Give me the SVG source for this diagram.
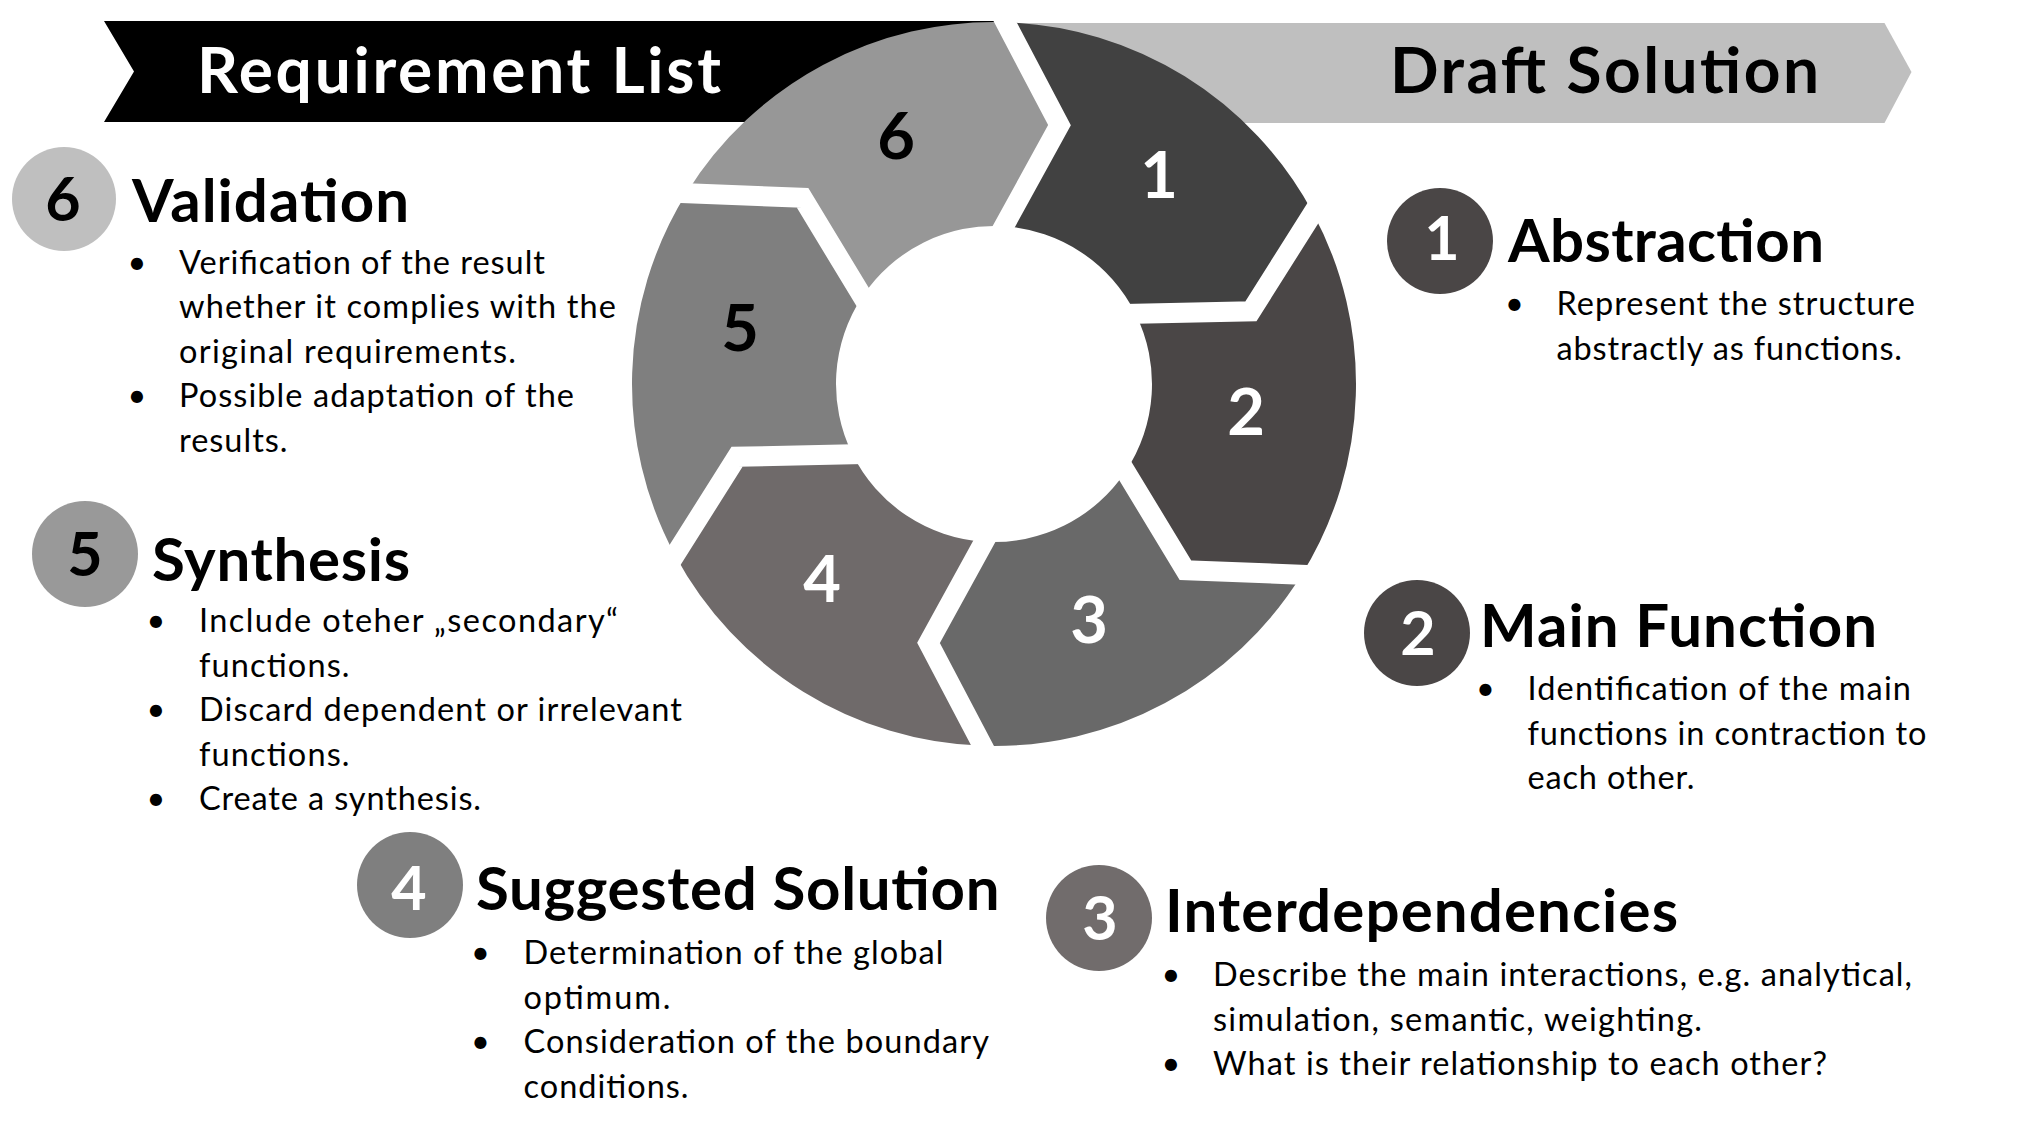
<svg xmlns="http://www.w3.org/2000/svg" width="2023" height="1133" viewBox="0 0 2023 1133">
<style>
.ban{font-family:Lato,"Liberation Sans",sans-serif;font-weight:bold;font-size:64px;}
.hd{font-family:Lato,"Liberation Sans",sans-serif;font-weight:bold;font-size:60px;fill:#000;}
.bd{font-family:Lato,"Liberation Sans",sans-serif;font-size:32.5px;fill:#000;}
.bl{font-family:Lato,"Liberation Sans",sans-serif;font-size:32.5px;fill:#000;text-anchor:middle;}
.wn{font-family:Lato,"Liberation Sans",sans-serif;font-weight:bold;font-size:65px;text-anchor:middle;}
.cn{font-family:Lato,"Liberation Sans",sans-serif;font-weight:bold;font-size:61px;text-anchor:middle;}
.gap{fill:none;stroke:#fff;stroke-width:20;stroke-linejoin:miter;}
</style>
<rect width="2023" height="1133" fill="#fff"/>
<g id="banner-requirement">
<polygon points="104,21 1000,21 1000,122 104,122 134,71.5" fill="#000"/>
<text class="ban" x="197" y="93" fill="#fff" textLength="524">Requirement List</text>
</g>
<g id="banner-draft">
<polygon points="1000,23 1884.5,23 1911.5,72 1884.5,123 1000,123" fill="#bfbfbf"/>
<text class="ban" x="1390" y="93" fill="#000" textLength="429">Draft Solution</text>
</g>
<g id="wheel">
<g id="seg1"><path d="M1005.37,22.18 A362,362 0 0 1 1313.03,212.94 L1250.91,311.30 L1135.52,313.75 A158,158 0 0 0 1003.92,226.31 L1059.50,125.16 Z" fill="#414141"/><text class="wn" x="1159" y="198" fill="#fff">1</text></g>
<g id="seg2"><path d="M1313.03,212.94 A362,362 0 0 1 1301.66,574.76 L1185.42,570.14 L1125.60,471.44 A158,158 0 0 0 1135.52,313.75 L1250.91,311.30 Z" fill="#4a4646"/><text class="wn" x="1246" y="435" fill="#fff">2</text></g>
<g id="seg3"><path d="M1301.66,574.76 A362,362 0 0 1 982.63,745.82 L928.50,642.84 L984.08,541.69 A158,158 0 0 0 1125.60,471.44 L1185.42,570.14 Z" fill="#696969"/><text class="wn" x="1089" y="643" fill="#fff">3</text></g>
<g id="seg4"><path d="M982.63,745.82 A362,362 0 0 1 674.97,555.06 L737.09,456.70 L852.48,454.25 A158,158 0 0 0 984.08,541.69 L928.50,642.84 Z" fill="#6f6a6a"/><text class="wn" x="822" y="602" fill="#fff">4</text></g>
<g id="seg5"><path d="M674.97,555.06 A362,362 0 0 1 686.34,193.24 L802.58,197.86 L862.40,296.56 A158,158 0 0 0 852.48,454.25 L737.09,456.70 Z" fill="#7f7f7f"/><text class="wn" x="740" y="351" fill="#000">5</text></g>
<g id="seg6"><path d="M686.34,193.24 A362,362 0 0 1 1005.37,22.18 L1059.50,125.16 L1003.92,226.31 A158,158 0 0 0 862.40,296.56 L802.58,197.86 Z" fill="#979797"/><text class="wn" x="896" y="159" fill="#000">6</text></g>
</g>
<g id="connectors">
<polyline class="gap" points="999.96,11.88 1059.50,125.16 998.36,236.43"/>
<polyline class="gap" points="1319.24,203.10 1250.91,311.30 1123.98,314.00"/>
<polyline class="gap" points="1313.28,575.22 1185.42,570.14 1119.62,461.57"/>
<polyline class="gap" points="988.04,756.12 928.50,642.84 989.64,531.57"/>
<polyline class="gap" points="668.76,564.90 737.09,456.70 864.02,454.00"/>
<polyline class="gap" points="674.72,192.78 802.58,197.86 868.38,306.43"/>
</g>
<g id="step6">
<circle cx="64" cy="199" r="52" fill="#bfbfbf"/>
<text class="cn" x="63" y="221" fill="#000">6</text>
<text class="hd" x="132" y="221.5" textLength="277">Validation</text>
<text class="bl" x="137" y="273.5">•</text><text class="bd" x="179" y="273.5" textLength="366">Verification of the result</text>
<text class="bd" x="179" y="318" textLength="437">whether it complies with the</text>
<text class="bd" x="179" y="362.5" textLength="337">original requirements.</text>
<text class="bl" x="137" y="407">•</text><text class="bd" x="179" y="407" textLength="395">Possible adaptation of the</text>
<text class="bd" x="179" y="451.5" textLength="108.5">results.</text>
</g>
<g id="step5">
<circle cx="85" cy="554" r="53" fill="#999999"/>
<text class="cn" x="85" y="576" fill="#000">5</text>
<text class="hd" x="152" y="581" textLength="258">Synthesis</text>
<text class="bl" x="156" y="632">•</text><text class="bd" x="199" y="632" textLength="419">Include oteher „secondary“</text>
<text class="bd" x="199" y="676.5" textLength="150.5">functions.</text>
<text class="bl" x="156" y="721">•</text><text class="bd" x="199" y="721" textLength="483">Discard dependent or irrelevant</text>
<text class="bd" x="199" y="765.5" textLength="150.5">functions.</text>
<text class="bl" x="156" y="810">•</text><text class="bd" x="199" y="810" textLength="282">Create a synthesis.</text>
</g>
<g id="step4">
<circle cx="410" cy="885" r="53" fill="#7f7f7f"/>
<text class="cn" x="409" y="910" fill="#fff">4</text>
<text class="hd" x="476" y="910" textLength="523.5">Suggested Solution</text>
<text class="bl" x="480.5" y="964">•</text><text class="bd" x="523.5" y="964" textLength="420">Determination of the global</text>
<text class="bd" x="523.5" y="1008.5" textLength="147">optimum.</text>
<text class="bl" x="480.5" y="1053">•</text><text class="bd" x="523.5" y="1053" textLength="465.5">Consideration of the boundary</text>
<text class="bd" x="523.5" y="1097.5" textLength="165">conditions.</text>
</g>
<g id="step3">
<circle cx="1099" cy="918" r="53" fill="#716c6c"/>
<text class="cn" x="1100" y="940" fill="#fff">3</text>
<text class="hd" x="1165" y="931.5" textLength="513">Interdependencies</text>
<text class="bl" x="1171" y="986">•</text><text class="bd" x="1213" y="986" textLength="699">Describe the main interactions, e.g. analytical,</text>
<text class="bd" x="1213" y="1030.5" textLength="489">simulation, semantic, weighting.</text>
<text class="bl" x="1171" y="1075">•</text><text class="bd" x="1213" y="1075" textLength="614">What is their relationship to each other?</text>
</g>
<g id="step2">
<circle cx="1417" cy="633" r="53" fill="#4a4646"/>
<text class="cn" x="1418" y="655" fill="#fff">2</text>
<text class="hd" x="1480" y="646.5" textLength="397">Main Function</text>
<text class="bl" x="1485.5" y="700">•</text><text class="bd" x="1527.5" y="700" textLength="383.5">Identification of the main</text>
<text class="bd" x="1527.5" y="744.5" textLength="399">functions in contraction to</text>
<text class="bd" x="1527.5" y="789" textLength="167">each other.</text>
</g>
<g id="step1">
<circle cx="1440" cy="241" r="53" fill="#4a4646"/>
<text class="cn" x="1442" y="260" fill="#fff">1</text>
<text class="hd" x="1508" y="262" textLength="316">Abstraction</text>
<text class="bl" x="1514.5" y="315">•</text><text class="bd" x="1556.5" y="315" textLength="358.5">Represent the structure</text>
<text class="bd" x="1556.5" y="359.5" textLength="345.5">abstractly as functions.</text>
</g>
</svg>
